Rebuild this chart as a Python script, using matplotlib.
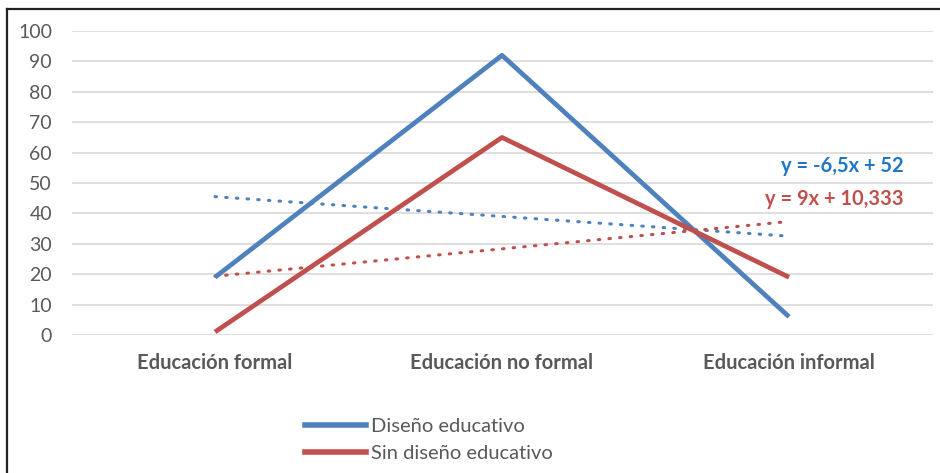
import numpy as np
import matplotlib.pyplot as plt
from matplotlib.lines import Line2D

categories = ['Educación formal', 'Educación no formal', 'Educación informal']
con_diseno = [19, 92, 6]
sin_diseno = [1, 65, 19]
series_names = ['Diseño educativo', 'Sin diseño educativo']

BLUE = '#4F81BD'
RED = '#C0504D'
BLUE_TXT = '#1F77C4'
GRAY = '#595959'


def main():
    plt.rcParams['font.family'] = ['Lato', 'DejaVu Sans']
    fig = plt.figure(figsize=(9.4, 4.73), dpi=100)
    ax = fig.add_axes([71.5 / 940, 1 - 335 / 473, 861 / 940, 304 / 473])

    x = np.arange(1, len(categories) + 1)
    ax.plot(x, con_diseno, color=BLUE, lw=3.4, solid_capstyle='butt', zorder=3)
    ax.plot(x, sin_diseno, color=RED, lw=3.4, solid_capstyle='butt', zorder=3)

    # linear trendlines like Excel
    for vals, col in [(con_diseno, BLUE), (sin_diseno, RED)]:
        m, b = np.polyfit(x, vals, 1)
        ax.plot(x[[0, -1]], m * x[[0, -1]] + b, color=col, lw=2.2,
                linestyle=(0, (0.5, 3.0)), dash_capstyle='round', zorder=2)

    ax.set_xlim(0.5, 3.5)
    ax.set_ylim(0, 100)
    ax.set_yticks(range(0, 101, 10))
    ax.set_xticks(x)
    ax.set_xticklabels(categories, fontsize=14.5, fontweight='bold', color=GRAY)
    ax.tick_params(axis='y', labelsize=14, labelcolor=GRAY, length=0, pad=14)
    ax.tick_params(axis='x', length=0, pad=13)
    ax.grid(axis='y', color='#D9D9D9', lw=1.2)
    ax.set_axisbelow(True)
    for s in ax.spines.values():
        s.set_visible(False)

    ax.text(0.966, 0.555, 'y = -6,5x + 52', transform=ax.transAxes, ha='right',
            va='center', fontsize=14.5, fontweight='bold', color=BLUE_TXT)
    ax.text(0.966, 0.447, 'y = 9x + 10,333', transform=ax.transAxes, ha='right',
            va='center', fontsize=14.5, fontweight='bold', color=RED)

    handles = [Line2D([], [], color=BLUE, lw=4), Line2D([], [], color=RED, lw=4)]
    fig.legend(handles, series_names, loc='center left',
               bbox_to_anchor=(287 / 940, 1 - 440 / 473), frameon=False,
               fontsize=14.5, labelcolor=GRAY, handlelength=3.0, handletextpad=0.25,
               labelspacing=0.5)

    # chart border (top and left visible)
    fig.add_artist(Line2D([7 / 940, 7 / 940], [0, 1 - 9 / 473],
                          transform=fig.transFigure, color='#222222', lw=1.6))
    fig.add_artist(Line2D([7 / 940, 1], [1 - 9 / 473, 1 - 9 / 473],
                          transform=fig.transFigure, color='#222222', lw=1.6))

    fig.savefig('out.png', dpi=100)


if __name__ == '__main__':
    main()
